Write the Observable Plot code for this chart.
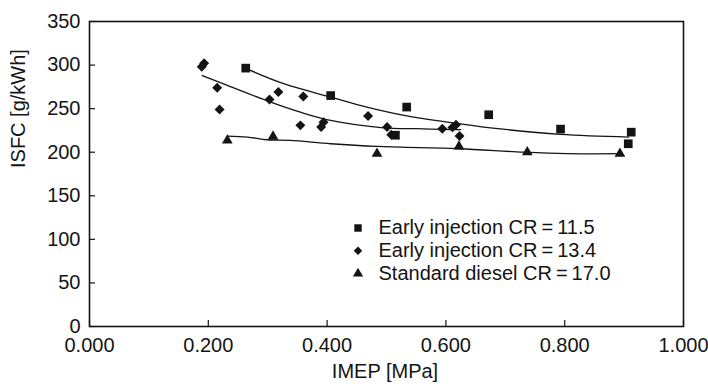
<!DOCTYPE html>
<html><head><meta charset="utf-8">
<script src="https://cdn.jsdelivr.net/npm/d3@7"></script>
<script src="https://cdn.jsdelivr.net/npm/@observablehq/plot@0.6"></script>
<style>
html,body{margin:0;padding:0;background:#fff;}
</style></head><body>
<div id="chart"></div>
<script>
// ---- tick labels ----
const xTicks = [0, 0.2, 0.4, 0.6, 0.8, 1.0];
const yTicks = [0, 50, 100, 150, 200, 250, 300, 350];
const xLabel = "IMEP [MPa]";
const yLabel = "ISFC [g/kWh]";

// ---- series: Early injection CR = 11.5 (squares) ----
const sqX = [0.263, 0.406, 0.515, 0.534, 0.672, 0.793, 0.907, 0.912];
const sqY = [296.5, 265, 219.5, 251.8, 243, 226.5, 209.7, 223];
const sqFitX = [0.268, 0.327, 0.406, 0.467, 0.532, 0.602, 0.675, 0.793, 0.908];
const sqFitY = [294.7, 278.6, 263.3, 251.8, 242, 234.6, 228, 220.4, 217.4];

// ---- series: Early injection CR = 13.4 (diamonds) ----
const diaX = [0.189, 0.193, 0.215, 0.219, 0.303, 0.318, 0.355, 0.360, 0.390, 0.394, 0.469, 0.501, 0.508, 0.594, 0.611, 0.617, 0.623];
const diaY = [298, 302, 274, 249, 260.6, 269, 230.8, 264, 228.8, 234.5, 241.5, 228.8, 220, 227, 228.5, 231.5, 218.5];
const diaFitX = [0.190, 0.232, 0.305, 0.355, 0.406, 0.495, 0.550, 0.613, 0.625];
const diaFitY = [288, 276.7, 257.5, 246, 236.5, 228, 227, 226, 226];

// ---- series: Standard diesel CR = 17.0 (triangles) ----
const triX = [0.232, 0.309, 0.484, 0.622, 0.737, 0.893];
const triY = [213.6, 218, 198.3, 206.6, 200, 198.3];
const triFitX = [0.232, 0.266, 0.299, 0.338, 0.406, 0.484, 0.523, 0.622, 0.731, 0.804, 0.894];
const triFitY = [218.5, 217.4, 214.3, 213.5, 209.7, 206.6, 205.8, 204, 200, 198.3, 198.3];

// ---- legend ----
const legendLabels = ["Early injection CR\u2009=\u200911.5", "Early injection CR\u2009=\u200913.4", "Standard diesel CR\u2009=\u200917.0"];
const legendSymbols = ["square", "diamond2", "triangle"];

const font = "'Liberation Sans', Arial, Helvetica, sans-serif";
const ink = "#141414";
const fs = 20;
const rows = (xs, ys) => xs.map((x, i) => ({x, y: ys[i]}));

const legendMarks = legendLabels.flatMap((label, i) => [
  Plot.dot([label], {frameAnchor: "top-left", dx: 268.5, dy: 206.5 + i * 22.8, symbol: legendSymbols[i], r: i === 0 ? 4.2 : 3.8, fill: ink, stroke: "none"}),
  Plot.text([label], {frameAnchor: "top-left", dx: 289, dy: 206.5 + i * 22.8, text: d => d, textAnchor: "start", lineAnchor: "middle", fill: ink, fontSize: fs})
]);

const chart = Plot.plot({
  width: 708, height: 388,
  marginLeft: 89, marginRight: 25, marginTop: 21, marginBottom: 62,
  style: {fontFamily: font, fontSize: fs + "px", color: ink, background: "#fff", overflow: "visible"},
  x: {domain: [0, 1]},
  y: {domain: [0, 350]},
  marks: [
    Plot.axisX({ticks: xTicks, tickSize: -6, fill: "none", stroke: ink, strokeWidth: 1.2, label: null}),
    Plot.axisX({ticks: xTicks, tickSize: 0, tickPadding: 11, tickFormat: d => d.toFixed(3), fill: ink, label: null, fontSize: fs}),
    Plot.axisY({ticks: yTicks, tickSize: -6, fill: "none", stroke: ink, strokeWidth: 1.2, label: null}),
    Plot.axisY({ticks: yTicks, tickSize: 0, tickPadding: 9, tickFormat: d => String(d), fill: ink, label: null, fontSize: fs}),
    Plot.frame({stroke: ink, strokeWidth: 1.6}),
    Plot.line(rows(sqFitX, sqFitY), {x: "x", y: "y", stroke: ink, strokeWidth: 1.3, curve: "catmull-rom"}),
    Plot.line(rows(diaFitX, diaFitY), {x: "x", y: "y", stroke: ink, strokeWidth: 1.3, curve: "catmull-rom"}),
    Plot.line(rows(triFitX, triFitY), {x: "x", y: "y", stroke: ink, strokeWidth: 1.3, curve: "catmull-rom"}),
    Plot.dot(rows(sqX, sqY), {x: "x", y: "y", symbol: "square", r: 4.9, fill: ink, stroke: "none"}),
    Plot.dot(rows(diaX, diaY), {x: "x", y: "y", symbol: "diamond2", r: 4.5, fill: ink, stroke: "none"}),
    Plot.dot(rows(triX, triY), {x: "x", y: "y", symbol: "triangle", r: 4.0, fill: ink, stroke: "none"}),
    ...legendMarks,
    Plot.text([xLabel], {frameAnchor: "bottom", dx: -1.5, dy: 51, text: d => d, fill: ink, fontSize: fs}),
    Plot.text([yLabel], {frameAnchor: "left", dx: -71, dy: -6, rotate: -90, text: d => d, fill: ink, fontSize: fs})
  ]
});
document.getElementById("chart").appendChild(chart);
</script>
</body></html>
